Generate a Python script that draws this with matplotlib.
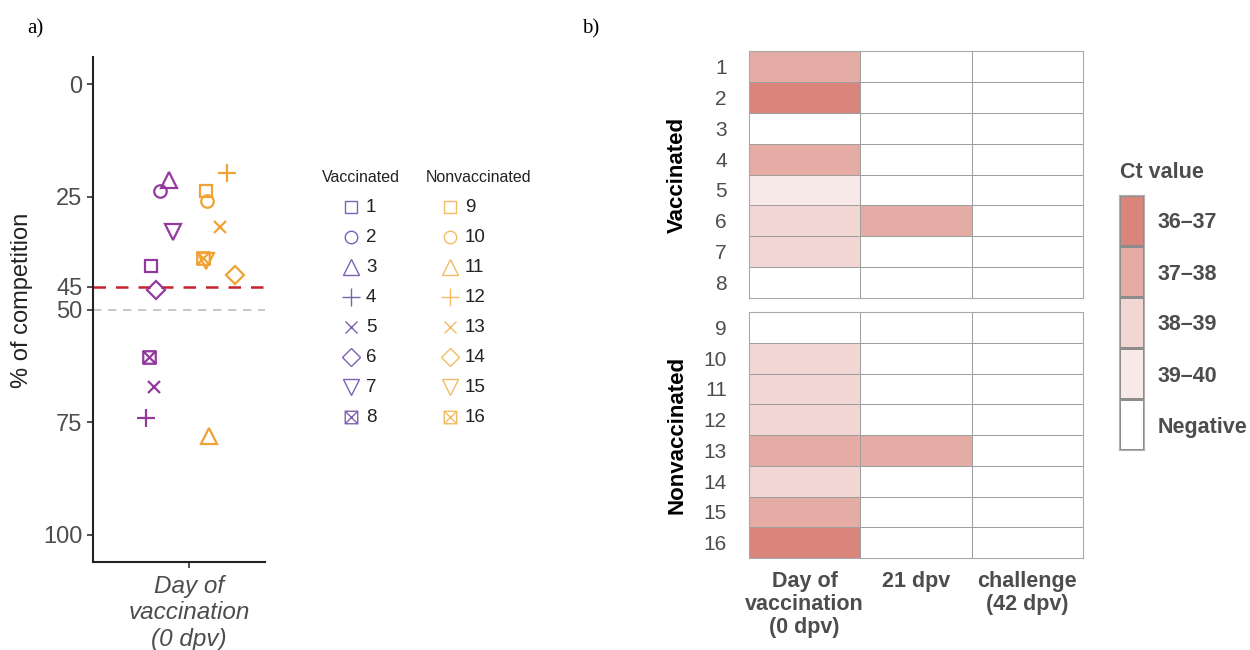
import numpy as np
import matplotlib
matplotlib.use('Agg')
import matplotlib.pyplot as plt
from matplotlib.path import Path
from matplotlib.colors import ListedColormap, BoundaryNorm

plt.rcParams['font.family'] = ['Liberation Sans', 'DejaVu Sans']

# a) % of competition on the day of vaccination
vacc_ids = [1, 2, 3, 4, 5, 6, 7, 8]
nonvacc_ids = [9, 10, 11, 12, 13, 14, 15, 16]
vacc_comp = [40.4, 23.7, 21.3, 74.1, 67.1, 45.7, 32.8, 60.6]
nonvacc_comp = [23.7, 25.9, 78.0, 19.8, 31.7, 42.4, 39.2, 38.6]
# horizontal jitter
vacc_jit = [0.734, 0.797, 0.860, 0.699, 0.755, 0.769, 0.888, 0.720]
nonvacc_jit = [1.119, 1.126, 1.140, 1.266, 1.217, 1.322, 1.119, 1.098]
cutoffs = [45, 50]
y_ticks = [0, 25, 45, 50, 75, 100]

# b) Ct value category per animal and timepoint
timepoints = ['Day of\nvaccination\n(0 dpv)', '21 dpv', 'challenge\n(42 dpv)']
ct_levels = ['Negative', '39–40', '38–39', '37–38', '36–37']
vacc_d0 = ['37–38', '36–37', 'Negative', '37–38', '39–40', '38–39', '38–39', 'Negative']
vacc_d21 = ['Negative'] * 5 + ['37–38'] + ['Negative'] * 2
vacc_d42 = ['Negative'] * 8
nonvacc_d0 = ['Negative', '38–39', '38–39', '38–39', '37–38', '38–39', '37–38', '36–37']
nonvacc_d21 = ['Negative'] * 4 + ['37–38'] + ['Negative'] * 3
nonvacc_d42 = ['Negative'] * 8

W, H = 1250, 650
def px_axes(x0, y0, x1, y1):
    return fig.add_axes([x0 / W, 1 - y1 / H, (x1 - x0) / W, (y1 - y0) / H])

# square with a cross (ggplot shape 7)
sqx = Path([(-1, -1), (1, -1), (1, 1), (-1, 1), (-1, -1), (-1, -1), (1, 1), (-1, 1), (1, -1)],
           [Path.MOVETO, Path.LINETO, Path.LINETO, Path.LINETO, Path.CLOSEPOLY,
            Path.MOVETO, Path.LINETO, Path.MOVETO, Path.LINETO])
shapes = ['s', 'o', '^', '+', 'x', 'D', 'v', sqx]
sizes = [9, 9, 11, 13, 9, 9, 11, 9]

purple, orange = '#93399f', '#f0a234'
leg_purple, leg_orange = '#7e61b3', '#f3bb62'
grey_txt = '#4d4d4d'

fig = plt.figure(figsize=(12.5, 6.5), dpi=100)

# ---- panel a
ax = px_axes(93, 57, 265, 562)
for comp, jit, col in [(vacc_comp, vacc_jit, purple), (nonvacc_comp, nonvacc_jit, orange)]:
    for i in range(8):
        ax.plot(jit[i], comp[i], marker=shapes[i], ms=sizes[i], mfc='none', mec=col,
                mew=1.6, ls='none', zorder=3)
ax.axhline(cutoffs[0], color='#c8232c', ls=(0, (5, 4)), lw=1.8, zorder=2)
ax.axhline(cutoffs[1], color='#bdbdbd', ls=(0, (5, 4)), lw=1.2, zorder=1)
ax.set_ylim(106, -6)
ax.set_xlim(0.33, 1.53)
ax.set_yticks(y_ticks)
ax.set_yticklabels([str(t) for t in y_ticks], fontsize=17, color=grey_txt)
ax.set_xticks([1])
ax.set_xticklabels(['Day of\nvaccination\n(0 dpv)'], fontsize=17.5, color=grey_txt,
                   style='italic', linespacing=1.2)
ax.tick_params(length=4, width=1.2, color='#333333')
ax.tick_params(axis='x', pad=5)
for s in ['top', 'right']:
    ax.spines[s].set_visible(False)
for s in ['left', 'bottom']:
    ax.spines[s].set_linewidth(1.5)
    ax.spines[s].set_color('#222222')
fig.text(22 / W, 1 - 300 / H, '% of competition', rotation=90, fontsize=17,
         ha='center', va='center', color='#222222')

# legend for panel a
lg = fig.add_axes([0, 0, 1, 1])
lg.set_xlim(0, W)
lg.set_ylim(H, 0)
lg.axis('off')
lg.patch.set_alpha(0)
for ids, col, mx, tx, hx, title in [(vacc_ids, leg_purple, 351, 366, 361, 'Vaccinated'),
                                    (nonvacc_ids, leg_orange, 450, 465, 479, 'Nonvaccinated')]:
    lg.text(hx, 177, title, fontsize=11.5, ha='center', va='center', color='#222222')
    for i, aid in enumerate(ids):
        yy = 207 + 30 * i
        lg.plot(mx, yy, marker=shapes[i], ms=sizes[i], mfc='none', mec=col, mew=1.0, ls='none')
        lg.text(tx, yy + 1, str(aid), fontsize=13.5, ha='left', va='center', color='#222222')

fig.text(27 / W, 1 - 29 / H, 'a)', fontsize=15, family='Liberation Serif', va='center')
fig.text(582 / W, 1 - 29 / H, 'b)', fontsize=15, family='Liberation Serif', va='center')

# ---- panel b
heat_cols = ['#ffffff', '#f7e9e7', '#f2d6d3', '#e5aca6', '#d9857b']
cmap = ListedColormap(heat_cols)
norm = BoundaryNorm(np.arange(-0.5, 5.5), cmap.N)
lvl = {name: k for k, name in enumerate(ct_levels)}

blocks = [('Vaccinated', vacc_ids, [vacc_d0, vacc_d21, vacc_d42], 51, 298),
          ('Nonvaccinated', nonvacc_ids, [nonvacc_d0, nonvacc_d21, nonvacc_d42], 312, 558)]
for bi, (name, ids, cols, y0, y1) in enumerate(blocks):
    hx = px_axes(749, y0, 1083, y1)
    grid = np.array([[lvl[c] for c in col] for col in cols]).T
    hx.pcolormesh(grid, cmap=cmap, norm=norm, edgecolors='#9e9e9e', linewidth=0.5)
    hx.set_xlim(0, 3)
    hx.set_ylim(8, 0)
    hx.set_yticks(np.arange(8) + 0.5)
    hx.set_yticklabels([str(i) for i in ids], fontsize=15, color=grey_txt)
    hx.tick_params(length=0, axis='y', pad=16)
    if bi == 1:
        hx.set_xticks(np.arange(3) + 0.5)
        hx.set_xticklabels(timepoints, fontsize=15.5, fontweight='bold', color=grey_txt,
                           linespacing=1.15)
        hx.tick_params(axis='x', length=0, pad=9)
    else:
        hx.set_xticks([])
    for s in hx.spines.values():
        s.set_color('#a9a9a9')
        s.set_linewidth(0.8)
    fig.text(677 / W, 1 - (y0 + y1) / 2 / H, name, rotation=90, fontsize=16,
             fontweight='bold', ha='center', va='center')

# Ct value legend
cx = px_axes(1119, 195, 1144, 450)
cx.pcolormesh(np.arange(5).reshape(-1, 1), cmap=cmap, norm=norm,
              edgecolors='#8c8c8c', linewidth=0.8)
cx.set_xlim(0, 1)
cx.set_ylim(0, 5)
cx.set_xticks([])
cx.yaxis.tick_right()
cx.set_yticks(np.arange(5) + 0.5)
cx.set_yticklabels(ct_levels, fontsize=15.5, fontweight='bold', color=grey_txt)
cx.tick_params(length=0, pad=10)
for s in cx.spines.values():
    s.set_color('#b0b0b0')
    s.set_linewidth(0.8)
fig.text(1120 / W, 1 - 173 / H, 'Ct value', fontsize=15.5, fontweight='bold',
         color=grey_txt, va='center', ha='left')

fig.savefig('out.png', dpi=100)
